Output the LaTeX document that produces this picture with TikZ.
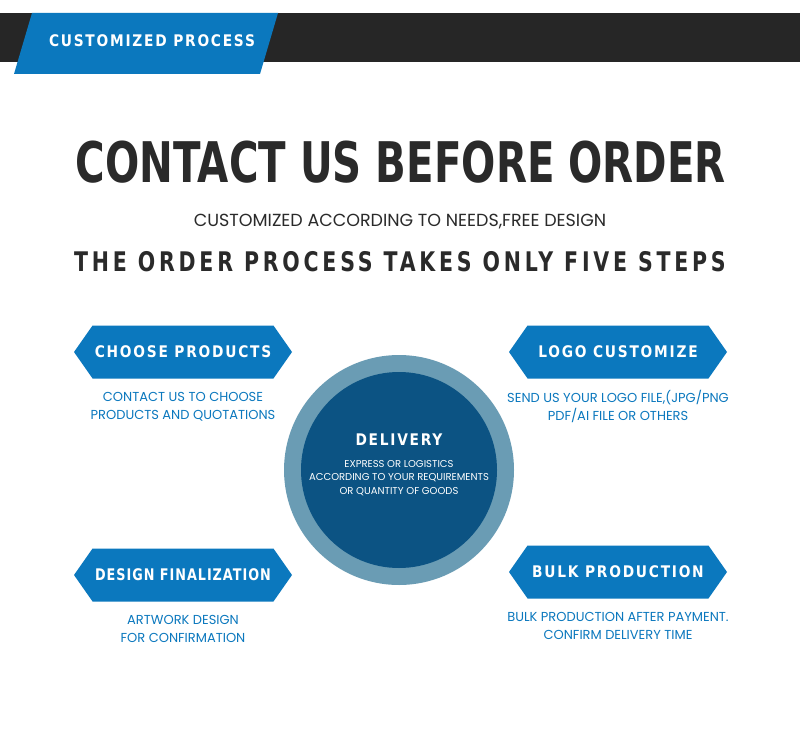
\documentclass[tikz,border=0pt]{standalone}
\usepackage{fontspec}
\setmainfont{Poppins}
\newfontfamily\headfont[FakeStretch=0.86,LetterSpace=11]{DejaVu Sans}
\newfontfamily\headtight[FakeStretch=0.8,LetterSpace=6]{DejaVu Sans}
\newfontfamily\titlefont[FakeStretch=0.72]{DejaVu Sans}
\newfontfamily\stepfont[FakeStretch=0.76,LetterSpace=14]{DejaVu Sans}
\usetikzlibrary{positioning,shapes.symbols}
\pgfdeclarelayer{background}
\pgfsetlayers{background,main}

\definecolor{barDark}{HTML}{262626}
\definecolor{procBlue}{HTML}{0B78BE}
\definecolor{ringBlue}{HTML}{6A9CB4}
\definecolor{coreBlue}{HTML}{0C5383}
\definecolor{inkDark}{HTML}{2A2A2A}

\begin{document}
\begin{tikzpicture}[
  x=1pt, y=-1pt,
  banner/.style={shape=signal, signal to=west and east, signal pointer angle=110,
    fill=procBlue, minimum width=218pt, minimum height=53pt, inner sep=0pt,
    text=white, font=\headfont\bfseries\fontsize{16}{16}\selectfont},
  subtext/.style={align=center, inner sep=0pt, text=procBlue,
    font=\fontsize{13}{18}\selectfont},
  dlvtext/.style={align=center, inner sep=0pt, text=white,
    font=\fontsize{10}{13.5}\selectfont}
  ]

  \begin{pgfonlayer}{background}
    \useasboundingbox (0,0) rectangle (800,741);
    \fill[white] (0,0) rectangle (800,741);
    \fill[barDark] (0,13) rectangle (800,62);
    \fill[procBlue] (32,13) -- (278,13) -- (260,74) -- (14,74) -- cycle;
  \end{pgfonlayer}

  \begin{pgfonlayer}{main}
    \node (hdr) [anchor=base, inner sep=0pt, text=white,
       font=\headfont\bfseries\fontsize{16}{16}\selectfont] at (152,47) {CUSTOMIZED PROCESS};

    \node (title) [anchor=base, inner sep=0pt, text=inkDark,
       font=\titlefont\bfseries\fontsize{56}{56}\selectfont] at (401,182) {CONTACT US BEFORE ORDER};
    \node (needs) [anchor=base, inner sep=0pt, text=inkDark,
       font=\fontsize{17.5}{17.5}\selectfont] at (400,226) {CUSTOMIZED ACCORDING TO NEEDS,FREE DESIGN};
    \node (steps) [anchor=base, inner sep=0pt, text=inkDark,
       font=\stepfont\bfseries\fontsize{27}{27}\selectfont] at (400,271) {THE ORDER PROCESS TAKES ONLY FIVE STEPS};

    % centre: delivery
    \node (ring) [circle, fill=ringBlue, minimum size=230pt, inner sep=0pt] at (399,470) {};
    \node (core) [circle, fill=coreBlue, minimum size=196pt, inner sep=0pt] at (ring.center) {};
    \node (dlv) [anchor=base, inner sep=0pt, text=white,
       font=\headfont\bfseries\fontsize{16}{16}\selectfont] at (399,445) {DELIVERY};
    \node (dlvsub) [dlvtext, below=15pt of dlv]
       {EXPRESS OR LOGISTICS\\ACCORDING TO YOUR REQUIREMENTS\\OR QUANTITY OF GOODS};

    % four steps
    \node (choose) [banner] at (183,352) {CHOOSE PRODUCTS};
    \node (choosesub) [subtext, below=13pt of choose]
       {CONTACT US TO CHOOSE\\PRODUCTS AND QUOTATIONS};

    \node (logo) [banner] at (618,352) {LOGO CUSTOMIZE};
    \node (logosub) [subtext, below=11pt of logo]
       {SEND US YOUR LOGO FILE,(JPG/PNG\\PDF/AI FILE OR OTHERS};

    \node (design) [banner, font=\headtight\bfseries\fontsize{16}{16}\selectfont] at (183,575) {DESIGN FINALIZATION};
    \node (designsub) [subtext, below=13pt of design]
       {ARTWORK DESIGN\\FOR CONFIRMATION};

    \node (bulk) [banner] at (618,572) {BULK PRODUCTION};
    \node (bulksub) [subtext, below=13pt of bulk]
       {BULK PRODUCTION AFTER PAYMENT.\\CONFIRM DELIVERY TIME};
  \end{pgfonlayer}
\end{tikzpicture}
\end{document}
